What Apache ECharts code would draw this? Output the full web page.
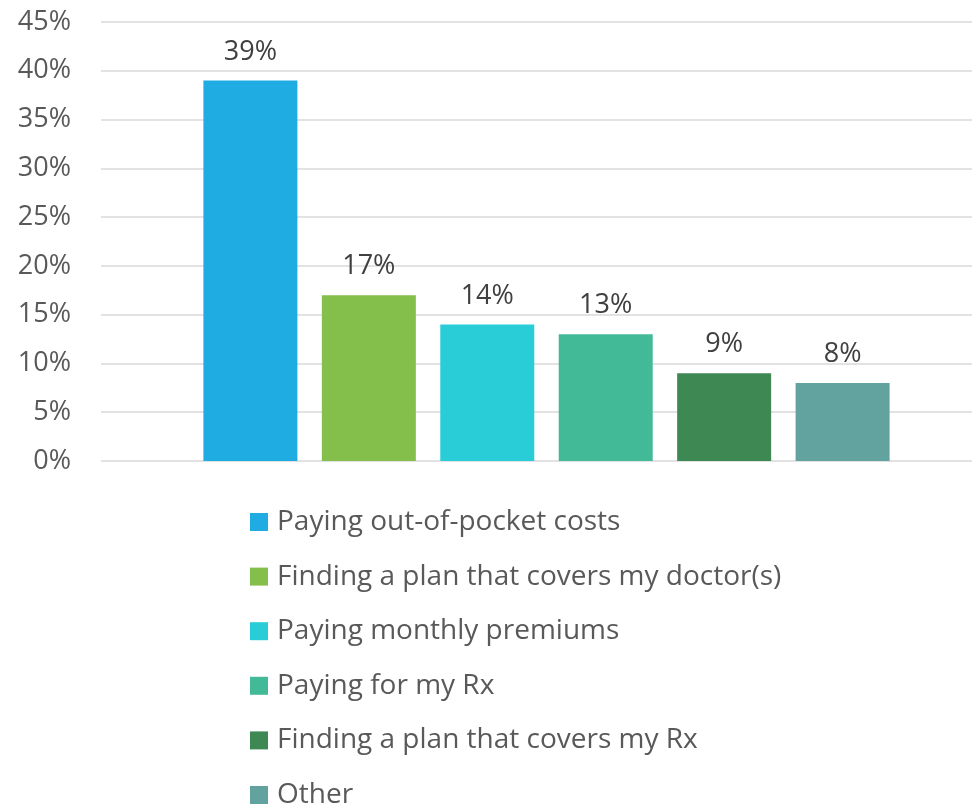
<!DOCTYPE html>
<html>
<head>
<meta charset="utf-8">
<script src="https://cdn.jsdelivr.net/npm/echarts@6/dist/echarts.min.js"></script>
<style>
  html, body { margin: 0; padding: 0; background: #ffffff; }
  #chart { width: 972px; height: 806px; }
</style>
</head>
<body>
<div id="chart"></div>
<script>
// Survey answers, one bar per answer
const answers = [
  'Paying out-of-pocket costs',
  'Finding a plan that covers my doctor(s)',
  'Paying monthly premiums',
  'Paying for my Rx',
  'Finding a plan that covers my Rx',
  'Other'
];
const shares = [39, 17, 14, 13, 9, 8];
const barColors = ['#1EACE3', '#84BE4B', '#28CDD7', '#43BA97', '#3E8854', '#62A39F'];
const yTicks = { min: 0, max: 45, step: 5 };

const FONT = '"Open Sans", sans-serif';

const series = answers.map((name, i) => ({
  name: name,
  type: 'bar',
  xAxisIndex: 1,
  yAxisIndex: 1,
  data: [shares[i]],
  barWidth: 94,
  barGap: '26%',
  itemStyle: { color: barColors[i] },
  label: {
    show: true,
    position: 'top',
    distance: 15,
    formatter: p => p.value + '%',
    color: '#404040',
    fontFamily: FONT,
    fontSize: 27
  }
}));

const hiddenY = {
  type: 'value', min: yTicks.min, max: yTicks.max, interval: yTicks.step,
  gridIndex: 1, show: false
};

const chart = echarts.init(document.getElementById('chart'), null, { renderer: 'canvas' });
chart.setOption({
  animation: false,
  backgroundColor: '#ffffff',
  // grid 0 carries the value axis and its gridlines, grid 1 holds the bar group
  grid: [
    { left: 101, right: 0, top: 22, height: 439, containLabel: false },
    { left: 121, right: 0, top: 22, height: 439, containLabel: false }
  ],
  xAxis: [
    { type: 'category', gridIndex: 0, data: [''], show: false },
    { type: 'category', gridIndex: 1, data: [''], show: false }
  ],
  yAxis: [
    {
      type: 'value',
      gridIndex: 0,
      min: yTicks.min,
      max: yTicks.max,
      interval: yTicks.step,
      axisLine: { show: false },
      axisTick: { show: false },
      splitLine: { lineStyle: { color: '#d9d9d9', width: 1.5 } },
      axisLabel: {
        formatter: v => v + '%',
        color: '#595959',
        fontFamily: FONT,
        fontSize: 27,
        margin: 30
      }
    },
    hiddenY
  ],
  legend: {
    orient: 'vertical',
    left: 250,
    top: 508,
    height: 340,
    padding: 0,
    itemWidth: 18,
    itemHeight: 18,
    itemGap: 26.6,
    icon: 'rect',
    data: answers,
    textStyle: {
      color: '#595959',
      fontFamily: FONT,
      fontSize: 28,
      lineHeight: 26,
      padding: [0, 0, 0, 4]
    }
  },
  series: series
});
</script>
</body>
</html>
